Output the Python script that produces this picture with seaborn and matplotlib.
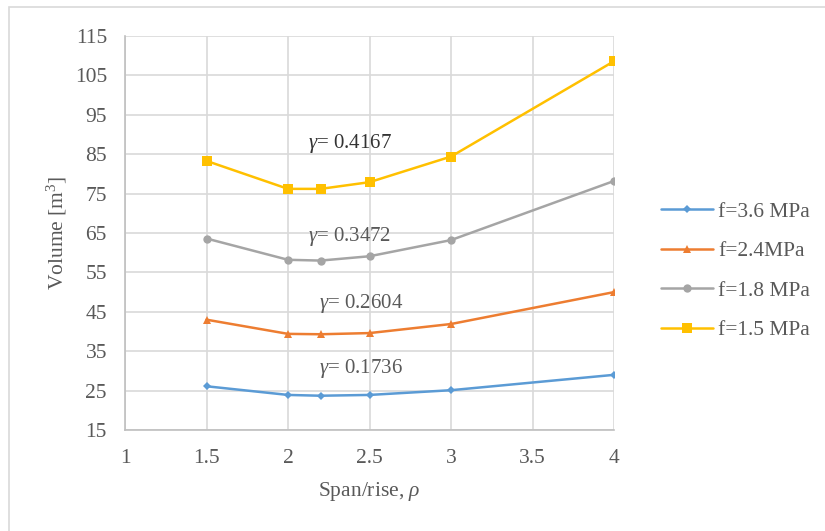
import matplotlib
matplotlib.use("Agg")
import matplotlib.pyplot as plt
import numpy as np
import pandas as pd
import seaborn as sns
from matplotlib.lines import Line2D
from matplotlib.patches import Rectangle

# data
rho = [1.5, 2.0, 2.2, 2.5, 3.0, 4.0]
series = ["f=3.6 MPa", "f=2.4MPa", "f=1.8 MPa", "f=1.5 MPa"]
vol_36 = [26.1, 23.9, 23.7, 23.9, 25.1, 29.0]
vol_24 = [43.0, 39.4, 39.3, 39.6, 41.9, 50.0]
vol_18 = [63.6, 58.2, 58.0, 59.1, 63.2, 78.2]
vol_15 = [83.3, 76.2, 76.2, 77.9, 84.4, 108.6]
gamma_labels = ["0.1736", "0.2604", "0.3472", "0.4167"]
gamma_pos = [(2.19, 30.5), (2.19, 47.2), (2.12, 64.0), (2.12, 87.8)]

colors = ["#5B9BD5", "#ED7D31", "#A5A5A5", "#FFC000"]
markers = ["D", "^", "o", "s"]
msizes = [4, 6, 6, 6.5]

df = pd.DataFrame({
    "rho": rho * 4,
    "vol": vol_36 + vol_24 + vol_18 + vol_15,
    "f": [s for s in series for _ in rho],
})

sns.set_style("white")
plt.rcParams["font.family"] = ["Liberation Serif", "DejaVu Serif"]
plt.rcParams["mathtext.fontset"] = "custom"
plt.rcParams["mathtext.rm"] = "Liberation Serif"
plt.rcParams["mathtext.it"] = "Liberation Serif:italic"

txt = "#595959"
fs = 15.5
fig = plt.figure(figsize=(8.25, 5.31), dpi=100)
ax = fig.add_axes([125 / 825, 1 - 430 / 531, 489 / 825, 394 / 531])

for s, c, m, ms in zip(series, colors, markers, msizes):
    sub = df[df["f"] == s]
    sns.lineplot(data=sub, x="rho", y="vol", ax=ax, color=c, marker=m,
                 markersize=ms, markeredgewidth=0, linewidth=1.8,
                 legend=False, zorder=3)

ax.set_xlim(1, 4)
ax.set_ylim(15, 115)
ax.set_xticks(np.arange(1, 4.01, 0.5))
ax.set_xticklabels(["1", "1.5", "2", "2.5", "3", "3.5", "4"])
ax.set_yticks(np.arange(15, 116, 10))
ax.grid(True, color="#D9D9D9", linewidth=1.2)
for sp in ["top", "right"]:
    ax.spines[sp].set_visible(False)
for sp in ["left", "bottom"]:
    ax.spines[sp].set_color("#BFBFBF")
    ax.spines[sp].set_linewidth(1.2)
ax.tick_params(axis="y", labelsize=fs, colors=txt, length=0, pad=13)
ax.tick_params(axis="x", labelsize=fs, colors=txt, length=0, pad=14)

ax.set_xlabel(r"Span/rise, $\it{\rho}$", fontsize=fs, color=txt, labelpad=8)
ax.set_ylabel(r"Volume [m$^3$]", fontsize=fs, color=txt, labelpad=4)

for lab, (gx, gy) in zip(gamma_labels, gamma_pos):
    col = "#333333" if lab == "0.4167" else txt
    ax.text(gx, gy, r"$\it{\gamma}$= " + lab, fontsize=15, color=col,
            ha="left", va="center")

handles = [Line2D([0], [0], color=c, marker=m, markersize=ms, markeredgewidth=0,
                  linewidth=1.8) for c, m, ms in zip(colors, markers, msizes)]
leg = fig.legend(handles, series, loc="center left",
                 bbox_to_anchor=(642 / 825, 1 - 271 / 531), frameon=False,
                 fontsize=fs, handlelength=2.4, labelspacing=0.9,
                 handletextpad=0.25)
for t in leg.get_texts():
    t.set_color(txt)

fig.patches.append(Rectangle((9 / 825, -0.1), 1.0, 1 - 7 / 531 + 0.1,
                             transform=fig.transFigure, fill=False,
                             edgecolor="#D9D9D9", linewidth=1.2))

fig.savefig("out.png", dpi=100, facecolor="white")
